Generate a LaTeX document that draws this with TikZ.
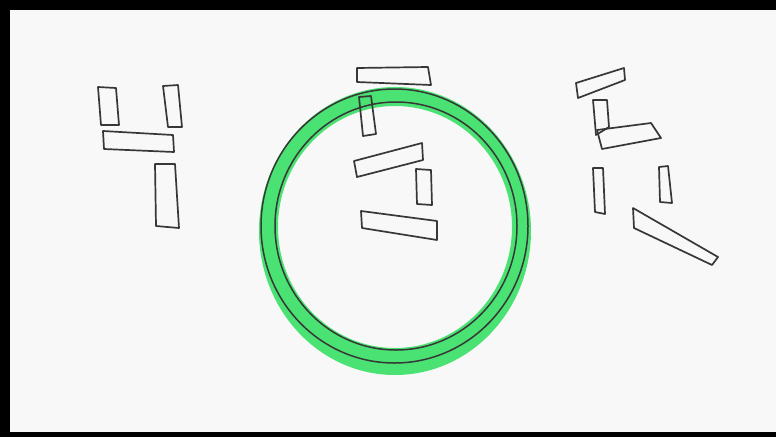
\documentclass[tikz,border=0pt]{standalone}
\usepackage{tikz}
\definecolor{skPaper}{RGB}{248,248,248}
\definecolor{skInk}{RGB}{55,55,55}
\definecolor{skGreen}{RGB}{74,226,114}
\begin{document}
\begin{tikzpicture}[
  x=1pt, y=-1pt,
  bar/.style={draw=skInk, line width=1.7pt, line join=round},
  ring/.style={draw=skInk, line width=1.5pt},
]
\useasboundingbox (0,0) rectangle (776,437);
\fill[skPaper] (0,0) rectangle (776,437);
% frame
\fill[black] (0,0) rectangle (776,10);
\fill[black] (0,0) rectangle (10,437);
\fill[black] (0,432) rectangle (776,437);
% green ring
\fill[skGreen, even odd rule] (395,231) ellipse [x radius=136, y radius=144]
  (395,227) ellipse [x radius=117, y radius=121];
\draw[ring] (394.5,226) ellipse [x radius=133.5, y radius=137];
\draw[ring] (396,226) ellipse [x radius=121, y radius=124];
% left group
\draw[bar] (98,87) -- (116,88) -- (119,125) -- (101,125) -- cycle;
\draw[bar] (163,86) -- (178,85) -- (182,127) -- (168,127) -- cycle;
\draw[bar] (103,131) -- (173,135) -- (174,152) -- (104,149) -- cycle;
\draw[bar] (155,164) -- (175,164) -- (179,228) -- (156,226) -- cycle;
% middle group
\draw[bar] (357,68) -- (428,67) -- (431,85) -- (357,82) -- cycle;
\draw[bar] (359,97) -- (371,96) -- (376,134) -- (363,136) -- cycle;
\draw[bar] (354,161) -- (422,143) -- (423,160) -- (357,177) -- cycle;
\draw[bar] (416,169) -- (431,170) -- (432,205) -- (417,204) -- cycle;
\draw[bar] (361,211) -- (437,221) -- (437,240) -- (362,228) -- cycle;
% right group
\draw[bar] (576,83) -- (624,68) -- (625,80) -- (578,98) -- cycle;
\draw[bar] (593,100) -- (607,100) -- (609,127) -- (596,135) -- cycle;
\draw[bar] (597,130) -- (651,123) -- (661,138) -- (602,149) -- cycle;
\draw[bar] (593,168) -- (603,168) -- (605,214) -- (595,212) -- cycle;
\draw[bar] (659,167) -- (668,166) -- (672,203) -- (660,202) -- cycle;
\draw[bar] (633,208) -- (718,257) -- (712,265) -- (634,228) -- cycle;
\end{tikzpicture}
\end{document}
